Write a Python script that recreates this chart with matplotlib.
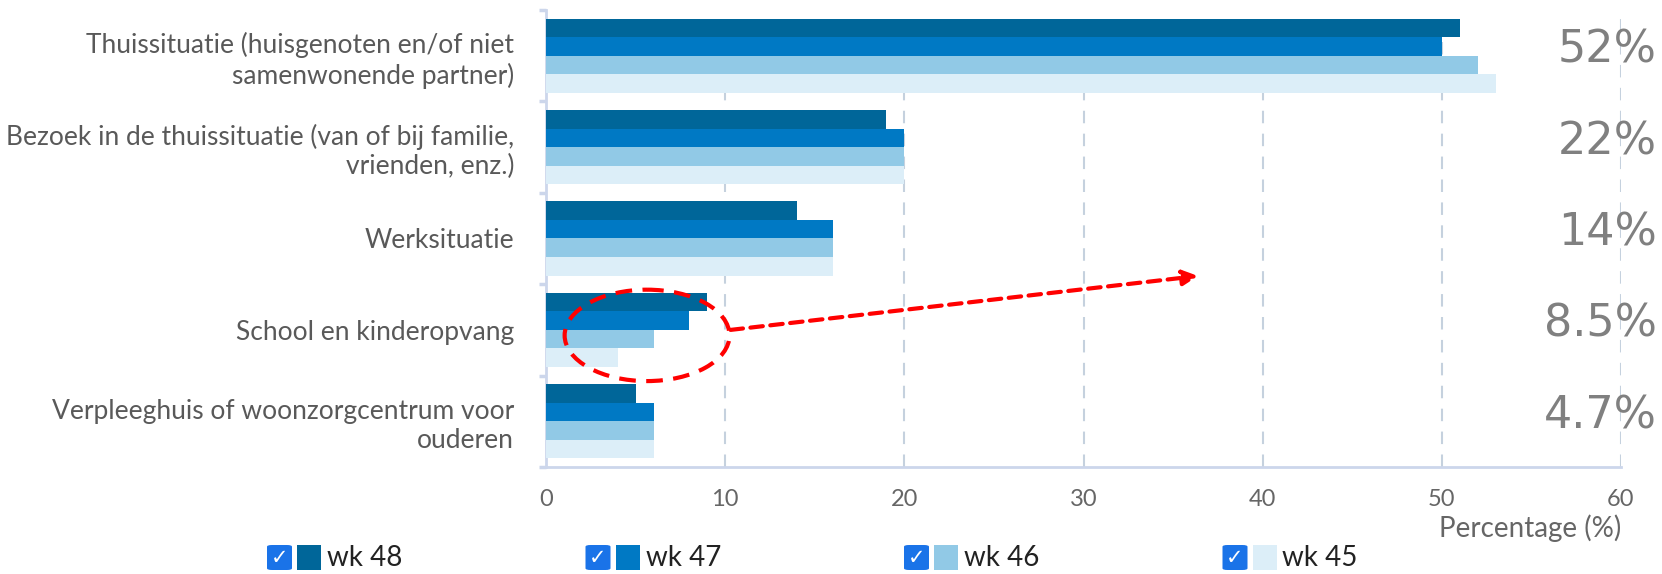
import matplotlib
matplotlib.use("Agg")
import matplotlib.pyplot as plt
import numpy as np
from matplotlib.patches import Ellipse, FancyBboxPatch, Rectangle
from matplotlib.transforms import blended_transform_factory

categories = [
    "Thuissituatie (huisgenoten en/of niet\nsamenwonende partner)",
    "Bezoek in de thuissituatie (van of bij familie,\nvrienden, enz.)",
    "Werksituatie",
    "School en kinderopvang",
    "Verpleeghuis of woonzorgcentrum voor\nouderen",
]
series_names = ["wk 48", "wk 47", "wk 46", "wk 45"]
wk48 = [51, 19, 14, 9, 5]
wk47 = [50, 20, 16, 8, 6]
wk46 = [52, 20, 16, 6, 6]
wk45 = [53, 20, 16, 4, 6]
right_labels = ["52%", "22%", "14%", "8.5%", "4.7%"]
x_ticks = [0, 10, 20, 30, 40, 50, 60]

colors = ["#006699", "#0079C4", "#91C9E6", "#DCEEF8"]
series = [wk48, wk47, wk46, wk45]

plt.rcParams['font.family'] = ['Lato', 'DejaVu Sans']

fig = plt.figure(figsize=(16.62, 5.74), dpi=100)
ax = fig.add_axes([546/1662, 1-467/574, (1621-546)/1662, (467-10)/574])

n = len(categories)
y = np.arange(n)
bh = 0.203
for k, (vals, c) in enumerate(zip(series, colors)):
    offs = (k - 1.5) * bh
    ax.barh(y + offs, vals, height=bh, color=c, edgecolor='none', zorder=3)

ax.set_xlim(0, 60)
ax.set_ylim(n - 0.5, -0.5)
ax.set_xticks(x_ticks)
ax.set_xticklabels([str(t) for t in x_ticks], fontsize=17, color="#666666")
ax.tick_params(axis='x', length=0, pad=16)
for t in x_ticks[1:]:
    ax.axvline(t, color="#C5D1DE", lw=1.5, ls=(0, (6, 5)), zorder=1)

ax.set_yticks(np.arange(-0.5, n, 1.0), minor=False)
ax.set_yticklabels([])
ax.tick_params(axis='y', length=5, width=2.5, color="#CCD6EB", direction='out')
ax.set_yticks(y, minor=True)
ax.set_yticklabels(categories, minor=True, fontsize=19, color="#595959", ha='right',
                   linespacing=1.2)
ax.tick_params(axis='y', which='minor', length=0, pad=23)

for s in ['top', 'right']:
    ax.spines[s].set_visible(False)
ax.spines['left'].set_color("#CCD6EB")
ax.spines['bottom'].set_color("#CCD6EB")
ax.spines['left'].set_linewidth(2)
ax.spines['bottom'].set_linewidth(2)

ax.text(1.0, -0.135, "Percentage (%)", transform=ax.transAxes, ha='right', va='center',
        fontsize=20, color="#666666")

trans = blended_transform_factory(fig.transFigure, ax.transData)
for i, lab in enumerate(right_labels):
    ax.text(1657/1662, i - 0.06, lab, transform=trans, ha='right', va='center',
            fontsize=32, color="#808080", family='DejaVu Sans', clip_on=False)

# annotation: red dashed ellipse and arrow
ell = Ellipse((5.64, 3.06), 9.2, 1.0, fill=False, edgecolor='red', lw=3,
              ls=(0, (4, 2.5)), zorder=5, clip_on=False)
ax.add_patch(ell)
ax.annotate("", xy=(36.4, 2.41), xytext=(10.3, 3.0),
            arrowprops=dict(arrowstyle="-|>,head_length=0.9,head_width=0.45", color='red',
                            lw=3, ls=(0, (3, 1.8)), shrinkA=0, shrinkB=0), zorder=5)

# legend
leg_y = 1 - 558/574
for k, (name, c) in enumerate(zip(series_names, colors)):
    x0 = 267 + k * 318.5
    cb = FancyBboxPatch((x0/1662, leg_y - 12/574), 25/1662, 25/574,
                        boxstyle="round,pad=0,rounding_size=0.003", transform=fig.transFigure,
                        facecolor="#1A73E8", edgecolor='none')
    fig.patches.append(cb)
    fig.text((x0 + 12.5)/1662, leg_y + 0.5/574, "✓", ha='center', va='center', color='white',
             fontsize=15, fontweight='bold', family='DejaVu Sans')
    sq = Rectangle(((x0 + 30)/1662, leg_y - 12/574), 24/1662, 25/574,
                   transform=fig.transFigure, facecolor=c, edgecolor='none')
    fig.patches.append(sq)
    fig.text((x0 + 60)/1662, leg_y, name, ha='left', va='center', color="#222222",
             fontsize=20)

fig.savefig("out.png", dpi=100)
